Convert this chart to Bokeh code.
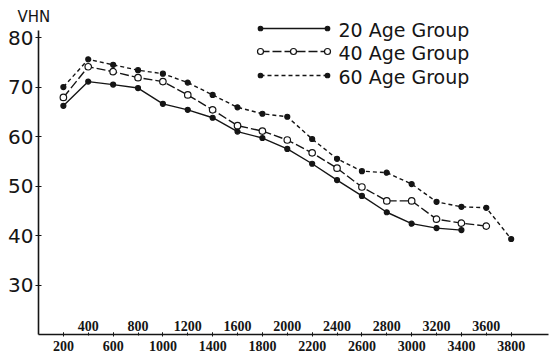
from bokeh.plotting import figure
from bokeh.models import ColumnDataSource, LabelSet, FixedTicker, Range1d
from bokeh.core.properties import value
from bokeh.embed import file_html
from bokeh.resources import INLINE

# ---------------- data ----------------
load = [200, 400, 600, 800, 1000, 1200, 1400, 1600, 1800, 2000,
        2200, 2400, 2600, 2800, 3000, 3200, 3400, 3600, 3800]
g20 = [66.2, 71.1, 70.5, 69.8, 66.6, 65.4, 63.8, 61.0, 59.7, 57.5,
       54.5, 51.2, 48.0, 44.7, 42.4, 41.5, 41.1]
g40 = [67.9, 74.1, 73.1, 71.9, 71.1, 68.4, 65.4, 62.2, 61.1, 59.3,
       56.7, 53.6, 49.8, 47.0, 47.0, 43.3, 42.5, 41.9]
g60 = [70.0, 75.6, 74.5, 73.4, 72.7, 70.9, 68.4, 65.9, 64.6, 64.0,
       59.5, 55.5, 53.0, 52.7, 50.4, 46.8, 45.8, 45.6, 39.3]
series_names = ["20 Age Group", "40 Age Group", "60 Age Group"]
y_ticks = [30, 40, 50, 60, 70, 80]
x_labels_upper = [400, 800, 1200, 1600, 2000, 2400, 2800, 3200, 3600]
x_labels_lower = [200, 600, 1000, 1400, 1800, 2200, 2600, 3000, 3400, 3800]
y_title = "VHN"

# ---------------- layout ----------------
W, H = 557, 355
BL, BR, BT, BB = 38, 9, 22, 21
X0, X1 = 0, 4100
Y0 = 20
Y1 = 80 + (37 - BT) / 4.93
INK = "#151515"

p = figure(width=W, height=H, output_backend="svg", toolbar_location=None,
           x_range=Range1d(X0, X1), y_range=Range1d(Y0, Y1),
           min_border_left=BL, min_border_right=BR,
           min_border_top=BT, min_border_bottom=BB,
           title=y_title)
p.outline_line_color = None
p.xgrid.visible = False
p.ygrid.visible = False
p.background_fill_color = "white"
p.border_fill_color = "white"

p.title.align = "left"
p.title.offset = -21
p.title.standoff = -7
p.title.text_font = "DejaVu Sans"
p.title.text_font_size = "15px"
p.title.text_font_style = "normal"
p.title.text_color = INK

# frame pixel helpers (canvas coords)
FL, FR, FT, FB = BL, W - BR, BT, H - BB
def sx(px):
    return X0 + (px - FL) / (FR - FL) * (X1 - X0)
def sy(py):
    return Y0 + (FB - py) / (FB - FT) * (Y1 - Y0)

# x axis: lower row of labels, ticks every 200
lab_font = "Liberation Sans Narrow"
p.xaxis.ticker = FixedTicker(ticks=x_labels_lower, minor_ticks=load)
p.xaxis.major_label_text_font = lab_font
p.xaxis.major_label_text_font_size = "14px"
p.xaxis.major_label_text_font_style = "bold"
p.xaxis.major_label_text_color = INK
p.xaxis.major_label_standoff = 4
p.xaxis.major_tick_in = 2
p.xaxis.major_tick_out = 2
p.xaxis.minor_tick_in = 2
p.xaxis.minor_tick_out = 1
p.xaxis.axis_line_width = 1.6
p.xaxis.axis_line_color = INK
p.xaxis.major_tick_line_color = INK
p.xaxis.minor_tick_line_color = INK

# y axis
p.yaxis.ticker = FixedTicker(ticks=y_ticks)
p.yaxis.bounds = (Y0, sy(30))
p.yaxis.minor_tick_line_color = None
p.yaxis.major_tick_in = 3
p.yaxis.major_tick_out = 3
p.yaxis.major_label_standoff = 2
p.yaxis.axis_line_width = 1.6
p.yaxis.axis_line_color = INK
p.yaxis.major_tick_line_color = INK
p.yaxis.major_label_text_font = "DejaVu Sans"
p.yaxis.major_label_text_font_size = "20px"
p.yaxis.major_label_text_color = INK

# upper (staggered) row of x labels, just above the axis
up = ColumnDataSource(dict(x=x_labels_upper, y=[Y0] * len(x_labels_upper),
                           t=[str(v) for v in x_labels_upper]))
p.add_layout(LabelSet(x="x", y="y", text="t", source=up, y_offset=9,
                      text_align="center", text_baseline="middle",
                      text_font=value(lab_font), text_font_size="14px",
                      text_font_style="bold", text_color=INK))

# ---------------- series ----------------
styles = [
    dict(dash="solid", fill=INK, size=5),
    dict(dash="9 3", fill="white", size=6.5),
    dict(dash="4 3", fill=INK, size=5),
]
for vals, st in zip([g20, g40, g60], styles):
    xs = load[:len(vals)]
    p.line(xs, vals, line_color=INK, line_width=1.4, line_dash=st["dash"])
    p.scatter(xs, vals, marker="circle", size=st["size"], line_color=INK,
              line_width=1.2, fill_color=st["fill"])

# ---------------- legend ----------------
rows_py = [28, 51, 75]
for name, st, py in zip(series_names, styles, rows_py):
    y = sy(py)
    x_a, x_b = sx(260), sx(327)
    p.line([x_a, x_b], [y, y], line_color=INK, line_width=1.4, line_dash=st["dash"])
    mk = [x_a, x_b] if st["fill"] != "white" else [x_a, sx(293), x_b]
    p.scatter(mk, [y] * len(mk), marker="circle", size=st["size"] - 0.5,
              line_color=INK, line_width=1.2, fill_color=st["fill"])
    p.text([sx(338)], [sy(py + 1.5)], text=[name], text_font=value("DejaVu Sans"),
           text_font_size=value("19px"), text_baseline="middle",
           text_align="left", text_color=INK)

open("out.html", "w").write(file_html(p, INLINE))
